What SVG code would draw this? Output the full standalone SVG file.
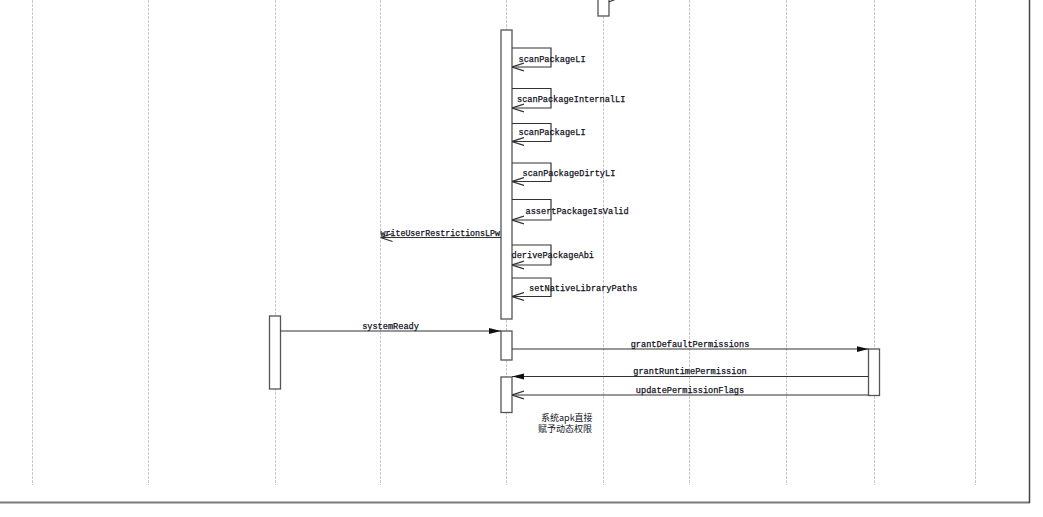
<svg xmlns="http://www.w3.org/2000/svg" width="1043" height="517" viewBox="0 0 1043 517">
<defs>
<style>
.life{stroke:#c8c8c8;stroke-width:1;stroke-dasharray:3,1}
.act{fill:#fff;stroke:#555;stroke-width:1.3}
.msg{fill:none;stroke:#333;stroke-width:1.2}
.t{font-family:"Liberation Mono",monospace;font-size:8.6px;fill:#111122;stroke:#111122;stroke-width:0.25}
.cj{font-family:"Noto Sans CJK SC",sans-serif;font-size:9px;fill:#111122}
</style>
<marker id="open" viewBox="0 0 12 10" refX="12" refY="5" markerWidth="12" markerHeight="10" markerUnits="userSpaceOnUse" orient="auto"><path d="M0,1 L12,5 L0,9" fill="none" stroke="#333" stroke-width="1.2"/></marker>
<marker id="fill" viewBox="0 0 12 8" refX="12" refY="4" markerWidth="12" markerHeight="8" markerUnits="userSpaceOnUse" orient="auto"><path d="M0,1 L12,4 L0,7 Z" fill="#111"/></marker>
</defs>
<rect width="1043" height="517" fill="#fff"/>
<g id="lifelines">
<line class="life" x1="32.5" y1="0" x2="32.5" y2="485"/>
<line class="life" x1="148.5" y1="0" x2="148.5" y2="485"/>
<line class="life" x1="275.5" y1="0" x2="275.5" y2="485"/>
<line class="life" x1="380.5" y1="0" x2="380.5" y2="485"/>
<line class="life" x1="506.5" y1="0" x2="506.5" y2="485"/>
<line class="life" x1="603.5" y1="0" x2="603.5" y2="485"/>
<line class="life" x1="689.5" y1="0" x2="689.5" y2="485"/>
<line class="life" x1="786.5" y1="0" x2="786.5" y2="485"/>
<line class="life" x1="874.5" y1="0" x2="874.5" y2="485"/>
<line class="life" x1="975.5" y1="0" x2="975.5" y2="485"/>
</g>
<g id="frame">
<line x1="0" y1="502.5" x2="1030" y2="502.5" stroke="#7a7a7a" stroke-width="2"/>
<line x1="1029.5" y1="0" x2="1029.5" y2="503" stroke="#444" stroke-width="1.5"/>
</g>
<g id="act-top"><rect class="act" x="598" y="-2" width="11" height="18"/></g>
<g id="act-main"><rect class="act" x="501" y="30" width="11" height="289"/></g>
<g id="act-caller"><rect class="act" x="269.5" y="316" width="11" height="73"/></g>
<g id="act-ready"><rect class="act" x="501" y="331" width="11" height="29"/></g>
<g id="act-perm"><rect class="act" x="868.5" y="349" width="11" height="46.5"/></g>
<g id="act-grant"><rect class="act" x="501" y="377" width="11" height="35.5"/></g>
<g id="connectors">
<path class="msg" d="M609,2 L616,-1"/>
<path class="msg" d="M512,48 H551 V67 H512" marker-end="url(#open)"/>
<path class="msg" d="M512,88.5 H551 V108 H512" marker-end="url(#open)"/>
<path class="msg" d="M512,123.5 H551 V141.5 H512" marker-end="url(#open)"/>
<path class="msg" d="M512,163 H551 V181.5 H512" marker-end="url(#open)"/>
<path class="msg" d="M512,199.5 H551 V220 H512" marker-end="url(#open)"/>
<path class="msg" d="M512,245 H551 V265 H512" marker-end="url(#open)"/>
<path class="msg" d="M512,278 H551 V296.5 H512" marker-end="url(#open)"/>
<path class="msg" d="M501,237.5 H380.5" marker-end="url(#open)"/>
<path class="msg" d="M280.5,331 H501" marker-end="url(#fill)"/>
<path class="msg" d="M512,349 H868.5" marker-end="url(#fill)"/>
<path class="msg" d="M868.5,376.5 H512" marker-end="url(#fill)"/>
<path class="msg" d="M868.5,395 H512" marker-end="url(#open)"/>
</g>
<g id="labels">
<text class="t" x="518.5" y="62">scanPackageLI</text>
<text class="t" x="517" y="102">scanPackageInternalLI</text>
<text class="t" x="518.5" y="135">scanPackageLI</text>
<text class="t" x="522.5" y="176">scanPackageDirtyLI</text>
<text class="t" x="525.5" y="214">assertPackageIsValid</text>
<text class="t" x="511.5" y="258">derivePackageAbi</text>
<text class="t" x="529" y="291">setNativeLibraryPaths</text>
<text class="t" x="380.5" y="236" textLength="119.5" lengthAdjust="spacingAndGlyphs">writeUserRestrictionsLPw</text>
<text class="t" x="390.5" y="328.5" text-anchor="middle">systemReady</text>
<text class="t" x="690" y="346.5" text-anchor="middle">grantDefaultPermissions</text>
<text class="t" x="690" y="374" text-anchor="middle">grantRuntimePermission</text>
<text class="t" x="690" y="392.5" text-anchor="middle">updatePermissionFlags</text>
<text class="cj" x="541" y="421">系统apk直接</text>
<text class="cj" x="538" y="432">赋予动态权限</text>
</g>
</svg>
